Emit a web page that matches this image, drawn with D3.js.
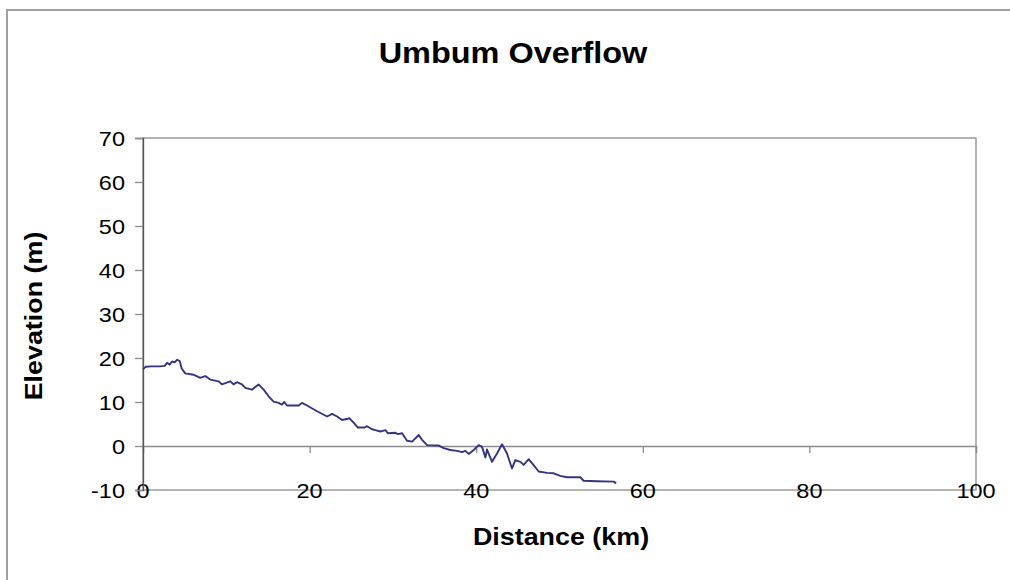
<!DOCTYPE html>
<html>
<head>
<meta charset="utf-8">
<script src="https://cdn.jsdelivr.net/npm/d3@7"></script>
<style>
  body { margin: 0; background: #fff; }
  text { font-family: "Liberation Sans", Arial, sans-serif; fill: #000; }
</style>
</head>
<body>
<svg id="chart" width="1010" height="580"></svg>
<script>
// data: [distance km, elevation m]
var profile = [
  [0, 17.4], [0.3, 18.0], [1, 18.1], [2, 18.1], [2.6, 18.2], [2.9, 18.9], [3.2, 18.5],
  [3.5, 19.2], [3.8, 19.0], [4.1, 19.6], [4.4, 19.3], [4.65, 17.6], [5.06, 16.5],
  [6.06, 16.2], [6.87, 15.5], [7.47, 15.9], [8.07, 15.1], [9.07, 14.7], [9.47, 14.0],
  [10.47, 14.7], [10.87, 14.0], [11.28, 14.5], [11.88, 14.0], [12.28, 13.2], [13.08, 12.8],
  [13.88, 14.0], [14.48, 12.8], [15.08, 11.3], [15.68, 10.1], [16.28, 9.8], [16.68, 9.4],
  [16.96, 10.0], [17.28, 9.2], [18.69, 9.2], [19.09, 9.8], [19.69, 9.2], [20.9, 7.9],
  [22.1, 6.7], [22.7, 7.3], [23.3, 6.7], [23.9, 5.9], [24.8, 6.3], [25.2, 5.5],
  [25.8, 4.2], [26.6, 4.2], [26.9, 4.5], [27.5, 3.8], [27.9, 3.6], [28.5, 3.3],
  [29.1, 3.6], [29.4, 2.9], [30.3, 3.0], [30.6, 2.7], [31.1, 2.9], [31.7, 1.2],
  [32.3, 1.0], [33.1, 2.5], [33.5, 1.4], [34.1, 0.2], [35.5, 0.1], [36.1, -0.5],
  [36.9, -0.9], [37.7, -1.1], [38.3, -1.4], [38.7, -1.1], [39.1, -1.8], [39.7, -0.9],
  [40.3, 0.2], [40.7, -0.2], [41.1, -2.6], [41.3, -0.8], [41.9, -3.6], [42.5, -1.7],
  [43.1, 0.4], [43.7, -1.7], [44.3, -5.1], [44.7, -3.2], [45.3, -3.6], [45.7, -4.3],
  [46.3, -3.0], [46.7, -3.9], [47.5, -5.8], [48.5, -6.1], [49.3, -6.2], [50.1, -6.8],
  [50.9, -7.1], [52.5, -7.1], [52.9, -7.9], [54.5, -8.0], [56.5, -8.1], [56.8, -8.5]
];
var xTicks = [0, 20, 40, 60, 80, 100];
var yTicks = [-10, 0, 10, 20, 30, 40, 50, 60, 70];

var titleText = "Umbum Overflow";
var xTitle = "Distance (km)";
var yTitle = "Elevation (m)";

// layout
var plotLeft = 143, plotRight = 976, plotTop = 138, plotBottom = 490;
var stretch = 1.12; // text in the picture is a little wide

var svg = d3.select("#chart");

var x = d3.scaleLinear().domain([0, 100]).range([plotLeft, plotRight]);
var y = d3.scaleLinear().domain([-10, 70]).range([plotBottom, plotTop]);

// outer chart border (only top and left show)
svg.append("path")
    .attr("d", "M7,580 L7,10 L1010,10")
    .attr("fill", "none")
    .attr("stroke", "#a0a0a0")
    .attr("stroke-width", 2);

// plot area frame
svg.append("rect")
    .attr("x", plotLeft).attr("y", plotTop)
    .attr("width", plotRight - plotLeft).attr("height", plotBottom - plotTop)
    .attr("fill", "none")
    .attr("stroke", "#8c8c8c")
    .attr("stroke-width", 1.3);

// x axis sits on zero
var xAxis = svg.append("g")
    .attr("transform", "translate(0," + y(0) + ")")
    .call(d3.axisBottom(x).tickValues(xTicks).tickSize(7).tickFormat(""));
xAxis.select(".domain").attr("stroke", "#8c8c8c").attr("stroke-width", 1.3);
xAxis.selectAll(".tick line").attr("stroke", "#8c8c8c").attr("stroke-width", 1.3);

// x tick labels down on the frame bottom
svg.selectAll(".xlab")
    .data(xTicks)
    .enter().append("text")
    .attr("class", "xlab")
    .attr("text-anchor", "middle")
    .attr("font-size", 21)
    .attr("transform", function (d) { return "translate(" + x(d) + "," + (plotBottom + 7.5) + ") scale(" + stretch + ",1)"; })
    .text(function (d) { return d; });

// y axis
var yAxis = svg.append("g")
    .attr("transform", "translate(" + plotLeft + ",0)")
    .call(d3.axisLeft(y).tickValues(yTicks).tickSize(8).tickFormat(""));
yAxis.select(".domain").attr("stroke", "#555").attr("stroke-width", 1.3);
yAxis.selectAll(".tick line").attr("stroke", "#8c8c8c").attr("stroke-width", 1.3);

svg.selectAll(".ylab")
    .data(yTicks)
    .enter().append("text")
    .attr("class", "ylab")
    .attr("text-anchor", "end")
    .attr("font-size", 21)
    .attr("transform", function (d) { return "translate(125," + (y(d) + 7.5) + ") scale(" + stretch + ",1)"; })
    .text(function (d) { return d; });

// the line
var line = d3.line()
    .x(function (d) { return x(d[0]); })
    .y(function (d) { return y(d[1]); });

svg.append("path")
    .datum(profile)
    .attr("d", line)
    .attr("fill", "none")
    .attr("stroke", "#35357f")
    .attr("stroke-width", 1.9)
    .attr("stroke-linejoin", "round");

// titles
svg.append("text")
    .attr("text-anchor", "middle")
    .attr("font-size", 29)
    .attr("font-weight", "bold")
    .attr("transform", "translate(513,63) scale(" + stretch + ",1)")
    .text(titleText);

svg.append("text")
    .attr("text-anchor", "middle")
    .attr("font-size", 24)
    .attr("font-weight", "bold")
    .attr("transform", "translate(561,545) scale(" + stretch + ",1)")
    .text(xTitle);

svg.append("text")
    .attr("text-anchor", "middle")
    .attr("font-size", 24)
    .attr("font-weight", "bold")
    .attr("transform", "translate(42,316) rotate(-90) scale(" + stretch + ",1)")
    .text(yTitle);
</script>
</body>
</html>
